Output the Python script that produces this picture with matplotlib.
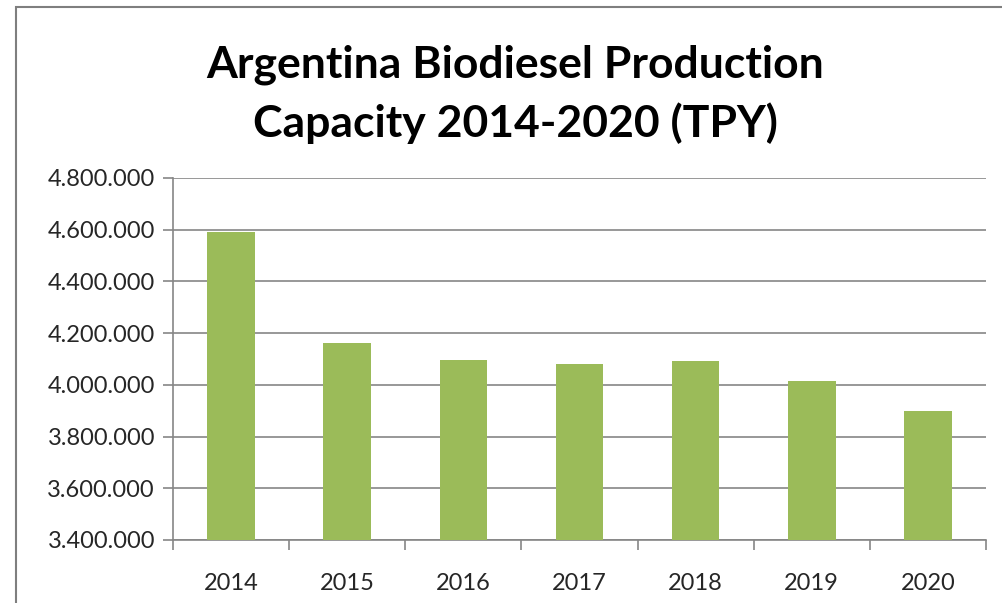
import matplotlib
matplotlib.use("Agg")
import matplotlib.pyplot as plt
from matplotlib.patches import Rectangle
from matplotlib.ticker import FuncFormatter, FixedLocator

years = ["2014", "2015", "2016", "2017", "2018", "2019", "2020"]
capacity = [4592000, 4160000, 4098000, 4080000, 4093000, 4013000, 3898000]
yticks = [3400000, 3600000, 3800000, 4000000, 4200000, 4400000, 4600000, 4800000]
title = "Argentina Biodiesel Production\nCapacity 2014-2020 (TPY)"

plt.rcParams['font.family'] = ['Lato', 'DejaVu Sans']

W, H = 1003, 603
fig = plt.figure(figsize=(W / 100, H / 100), dpi=100)
fig.patch.set_facecolor('white')

# outer frame
fig.patches.append(Rectangle((16 / W, -0.05), 1.1, (H - 7) / H + 0.05,
                             transform=fig.transFigure, fill=False,
                             edgecolor='#7f7f7f', linewidth=1.5, zorder=0))

left, right = 173 / W, 986 / W
bottom, top = 1 - 540 / H, 1 - 178 / H
ax = fig.add_axes([left, bottom, right - left, top - bottom])

x = list(range(len(years)))
ax.bar(x, capacity, width=0.41, color='#9BBB59', zorder=3)
ax.set_xlim(-0.5, len(years) - 0.5)
ax.set_ylim(3400000, 4800000)
ax.set_yticks(yticks)
ax.yaxis.set_major_formatter(FuncFormatter(lambda v, p: f"{int(v):,}".replace(",", ".")))
ax.set_xticks(x)
ax.set_xticklabels(years)
ax.xaxis.set_minor_locator(FixedLocator([i - 0.5 for i in range(len(years) + 1)]))

ax.grid(axis='y', color='#868686', linewidth=1.2, zorder=0)
for s in ['top', 'right']:
    ax.spines[s].set_visible(False)
ax.spines['left'].set_color('#868686')
ax.spines['bottom'].set_color('#868686')
ax.spines['left'].set_linewidth(1.2)
ax.spines['bottom'].set_linewidth(1.2)

ax.tick_params(axis='y', which='major', length=7, color='#868686', width=1.2,
               labelsize=17, labelcolor='#262626', pad=6)
ax.tick_params(axis='x', which='major', length=0, labelsize=17,
               labelcolor='#262626', pad=24)
ax.tick_params(axis='x', which='minor', length=7, color='#868686', width=1.2)

fig.text(0.514, 1 - 94 / H, title, ha='center', va='center', fontsize=32,
         fontweight='bold', color='black', linespacing=1.5)

fig.savefig('out.png', dpi=100, facecolor='white')
